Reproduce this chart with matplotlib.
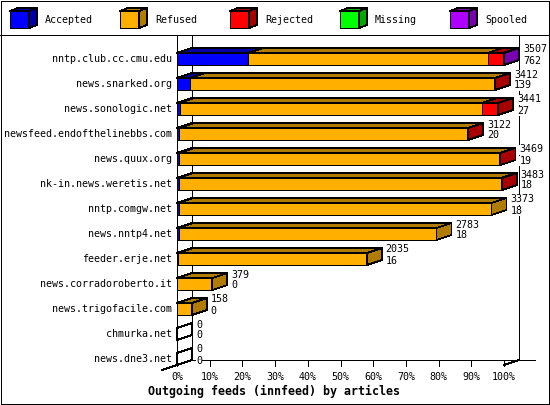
import matplotlib
matplotlib.use("Agg")
import matplotlib.pyplot as plt
from matplotlib.patches import Polygon, Rectangle

W, H = 550, 405
DPI = 100

HOSTS = ['nntp.club.cc.cmu.edu', 'news.snarked.org', 'news.sonologic.net',
         'newsfeed.endofthelinebbs.com', 'news.quux.org', 'nk-in.news.weretis.net',
         'nntp.comgw.net', 'news.nntp4.net', 'feeder.erje.net',
         'news.corradoroberto.it', 'news.trigofacile.com', 'chmurka.net',
         'news.dne3.net']
OFFERED = [3507, 3412, 3441, 3122, 3469, 3483, 3373, 2783, 2035, 379, 158, 0, 0]
ACCEPTED = [762, 139, 27, 20, 19, 18, 18, 18, 16, 0, 0, 0, 0]
REFUSED = [2570, 3267, 3243, 3096, 3438, 3455, 3355, 2765, 2019, 379, 158, 0, 0]
REJECTED = [160, 6, 171, 6, 12, 10, 0, 0, 0, 0, 0, 0, 0]
MISSING = [0, 0, 0, 0, 0, 0, 0, 0, 0, 0, 0, 0, 0]
SPOOLED = [15, 0, 0, 0, 0, 0, 0, 0, 0, 0, 0, 0, 0]

SEGMENT_NAMES = ['Accepted', 'Refused', 'Rejected', 'Missing', 'Spooled']
FRONT = ['#0000ff', '#ffaf00', '#ff0000', '#00ff00', '#af00ff']
DARK = ['#0000a8', '#b07c00', '#a80000', '#00a800', '#7800b0']
TICK_LABELS = ['0%', '10%', '20%', '30%', '40%', '50%', '60%', '70%', '80%', '90%', '100%']
TITLE = 'Outgoing feeds (innfeed) by articles'

FONT = 'DejaVu Sans Mono'
FS = 7.2
LW = 0.6


def poly(ax, pts, fc, zorder=2):
    ax.add_patch(Polygon(pts, closed=True, facecolor=fc, edgecolor='black',
                         linewidth=LW, antialiased=False, clip_on=False,
                         zorder=zorder))


def line(ax, xs, ys, zorder=1):
    ax.plot(xs, ys, color='black', linewidth=LW, antialiased=False,
            clip_on=False, zorder=zorder)


fig = plt.figure(figsize=(W / DPI, H / DPI), dpi=DPI)

# pixel overlay for frame, legend and title
pix = fig.add_axes([0, 0, 1, 1])
pix.set_xlim(0, W)
pix.set_ylim(H, 0)
pix.axis('off')
# outer frame, drawn as four lines so every edge lands inside the image
for xs, ys in (([0.5, W - 1], [0.5, 0.5]), ([0.5, W - 1], [H - 1, H - 1]),
               ([0.5, 0.5], [0.5, H - 1]), ([W - 1, W - 1], [0.5, H - 1]),
               ([0, W], [35, 35])):
    pix.plot(xs, ys, color='black', linewidth=LW, antialiased=False, clip_on=False)

for k, name in enumerate(SEGMENT_NAMES):
    x0 = 10 + k * 110
    poly(pix, [(x0, 11), (x0 + 19, 11), (x0 + 19, 28), (x0, 28)], FRONT[k])
    poly(pix, [(x0, 11), (x0 + 8, 8), (x0 + 27, 8), (x0 + 19, 11)], DARK[k])
    poly(pix, [(x0 + 19, 11), (x0 + 27, 8), (x0 + 27, 25), (x0 + 19, 28)], DARK[k])
    pix.text(x0 + 35, 20, name, ha='left', va='center', family=FONT, size=FS)

pix.text(148, 391, TITLE, ha='left', va='center', family=FONT, size=8.4,
         fontweight='bold')

# data axes: front plane of the bars
n = len(HOSTS)
left_px, right_px = 177, 504
row0_px, pitch = 59, 25
top_px = row0_px - 0.5 * pitch
bot_px = row0_px + (n - 0.5) * pitch
ax = fig.add_axes([left_px / W, (H - bot_px) / H, (right_px - left_px) / W,
                   (bot_px - top_px) / H])
ax.patch.set_alpha(0)
ax.axis('off')
xmax = max(OFFERED)
ax.set_xlim(0, xmax)
ax.set_ylim(n - 0.5, -0.5)

px_x = xmax / (right_px - left_px)
px_y = 1 / pitch
DX = 15 * px_x
DY = -5 * px_y
HALF = 6 * px_y

wall_top = (35 - row0_px) * px_y
floor_front = (n - 1) + HALF
floor_back = floor_front + DY

# walls and floor
line(ax, [0, 0], [wall_top, floor_front])
line(ax, [DX, DX], [wall_top, floor_back])
line(ax, [xmax + DX, xmax + DX], [wall_top, floor_back])
line(ax, [DX, xmax + DX + 16 * px_x], [floor_back, floor_back])
line(ax, [-DX, DX], [floor_front - DY, floor_back])
line(ax, [xmax, xmax + DX], [floor_front, floor_back])

for t, lab in enumerate(TICK_LABELS):
    xt = xmax * t / (len(TICK_LABELS) - 1)
    line(ax, [xt, xt], [floor_back, floor_front + 1 * px_y])
    ax.text(xt, floor_front + 12 * px_y, lab, ha='center', va='center',
            family=FONT, size=FS)

# bars
for i, host in enumerate(HOSTS):
    segs = [ACCEPTED[i], REFUSED[i], REJECTED[i], MISSING[i], SPOOLED[i]]
    top = i - HALF
    bot = i + HALF
    x0 = 0
    last = None
    for k, v in enumerate(segs):
        if v == 0:
            continue
        x1 = x0 + v
        poly(ax, [(x0, top), (x1, top), (x1, bot), (x0, bot)], FRONT[k], 3)
        poly(ax, [(x0, top), (x0 + DX, top + DY), (x1 + DX, top + DY), (x1, top)],
             DARK[k], 3)
        x0 = x1
        last = k
    side = [(x0, top), (x0 + DX, top + DY), (x0 + DX, bot + DY), (x0, bot)]
    poly(ax, side, DARK[last] if last is not None else 'none', 3)

    ax.text(-5 * px_x, i, host, ha='right', va='center', family=FONT, size=FS)
    xl = x0 + DX + 4 * px_x
    for yoff, val in ((-9.5, OFFERED[i]), (1.5, ACCEPTED[i])):
        ax.text(xl, i + yoff * px_y, str(val), ha='left', va='center',
                family=FONT, size=FS, zorder=5,
                bbox=dict(facecolor='white', edgecolor='none', pad=0))

fig.savefig('out.png', dpi=DPI)
